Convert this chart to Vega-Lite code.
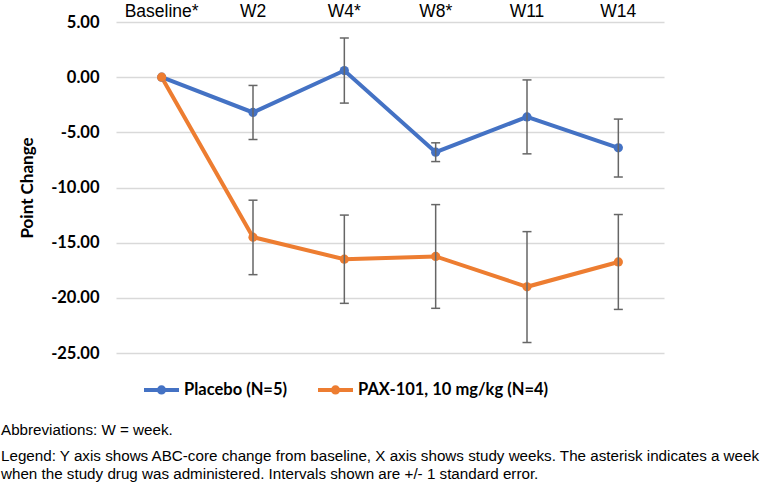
{
  "$schema": "https://vega.github.io/schema/vega-lite/v6.json",
  "width": 548,
  "height": 331,
  "autosize": {"type": "none"},
  "padding": {"left": 116, "top": 22, "right": 105, "bottom": 134},
  "background": "white",
  "config": {"view": {"stroke": null}},
  "title": {
    "text": "Abbreviations: W = week.",
    "subtitle": [
      "Legend: Y axis shows ABC-core change from baseline, X axis shows study weeks. The asterisk indicates a week",
      "when the study drug was administered. Intervals shown are +/- 1 standard error."
    ],
    "orient": "bottom",
    "anchor": "start",
    "frame": "group",
    "dx": -115,
    "offset": 22,
    "font": "Liberation Sans",
    "fontSize": 15.2,
    "fontWeight": "normal",
    "color": "#000000",
    "subtitleFont": "Liberation Sans",
    "subtitleFontSize": 15.2,
    "subtitleColor": "#000000",
    "subtitleLineHeight": 18,
    "subtitlePadding": 11
  },
  "data": {
    "values": [
      {"week": "Baseline*", "group": "Placebo (N=5)", "mean": 0, "lo": null, "hi": null},
      {"week": "W2", "group": "Placebo (N=5)", "mean": -3.2, "lo": -5.65, "hi": -0.75},
      {"week": "W4*", "group": "Placebo (N=5)", "mean": 0.6, "lo": -2.35, "hi": 3.55},
      {"week": "W8*", "group": "Placebo (N=5)", "mean": -6.8, "lo": -7.65, "hi": -5.95},
      {"week": "W11", "group": "Placebo (N=5)", "mean": -3.6, "lo": -6.95, "hi": -0.25},
      {"week": "W14", "group": "Placebo (N=5)", "mean": -6.4, "lo": -9.05, "hi": -3.8},
      {"week": "Baseline*", "group": "PAX-101, 10 mg/kg (N=4)", "mean": 0, "lo": null, "hi": null},
      {"week": "W2", "group": "PAX-101, 10 mg/kg (N=4)", "mean": -14.5, "lo": -17.9, "hi": -11.15},
      {"week": "W4*", "group": "PAX-101, 10 mg/kg (N=4)", "mean": -16.5, "lo": -20.5, "hi": -12.5},
      {"week": "W8*", "group": "PAX-101, 10 mg/kg (N=4)", "mean": -16.25, "lo": -20.95, "hi": -11.55},
      {"week": "W11", "group": "PAX-101, 10 mg/kg (N=4)", "mean": -19.0, "lo": -24.05, "hi": -14.0},
      {"week": "W14", "group": "PAX-101, 10 mg/kg (N=4)", "mean": -16.75, "lo": -21.05, "hi": -12.45}
    ]
  },
  "encoding": {
    "x": {
      "field": "week",
      "type": "nominal",
      "sort": ["Baseline*", "W2", "W4*", "W8*", "W11", "W14"],
      "scale": {"type": "band", "paddingInner": 0, "paddingOuter": 0},
      "axis": {
        "orient": "top",
        "title": null,
        "labelAngle": 0,
        "labelFont": "Liberation Sans",
        "labelFontSize": 17.5,
        "labelColor": "#000000",
        "labelPadding": 2,
        "domain": false,
        "ticks": false,
        "grid": false
      }
    }
  },
  "layer": [
    {
      "mark": {"type": "line", "strokeWidth": 4},
      "encoding": {
        "y": {
          "field": "mean",
          "type": "quantitative",
          "scale": {"domain": [-25, 5], "nice": false, "zero": false},
          "axis": {
            "title": "Point Change",
            "titleFont": "Lato",
            "titleFontSize": 17,
            "titleFontWeight": "bold",
            "titleColor": "#000000",
            "titlePadding": 14,
            "values": [-25, -20, -15, -10, -5, 0, 5],
            "labelExpr": "replace(format(datum.value, '.2f'), '\u2212', '-')",
            "labelFont": "Lato",
            "labelFontSize": 16.5,
            "labelFontWeight": "bold",
            "labelColor": "#000000",
            "labelPadding": 17,
            "domain": false,
            "ticks": false,
            "grid": true,
            "gridColor": "#d9d9d9",
            "gridWidth": 1.3
          }
        },
        "color": {
          "field": "group",
          "type": "nominal",
          "scale": {
            "domain": ["Placebo (N=5)", "PAX-101, 10 mg/kg (N=4)"],
            "range": ["#4472C4", "#ED7D31"]
          },
          "legend": {
            "title": null,
            "orient": "none",
            "direction": "horizontal",
            "legendX": 26,
            "legendY": 348,
            "symbolType": "M-1,0H1M0.15,0A0.15,0.15,0,1,1,-0.15,0A0.15,0.15,0,1,1,0.15,0Z",
            "symbolSize": 1225,
            "symbolStrokeWidth": 4,
            "labelFont": "Lato",
            "labelFontSize": 16.5,
            "labelFontWeight": "bold",
            "labelColor": "#000000",
            "labelOffset": 3,
            "labelLimit": 500,
            "columnPadding": 22,
            "encode": {
              "symbols": {
                "update": {
                  "fill": {"scale": "color", "field": "value"},
                  "stroke": {"scale": "color", "field": "value"},
                  "fillOpacity": {"value": 1},
                  "strokeOpacity": {"value": 1}
                }
              }
            }
          }
        }
      }
    },
    {
      "mark": {"type": "point", "filled": true, "size": 85, "opacity": 1},
      "encoding": {
        "y": {"field": "mean", "type": "quantitative"},
        "color": {"field": "group", "type": "nominal"}
      }
    },
    {
      "transform": [{"filter": "datum.lo != null"}],
      "mark": {"type": "rule", "color": "#666666", "strokeWidth": 1.5},
      "encoding": {
        "y": {"field": "lo", "type": "quantitative"},
        "y2": {"field": "hi"}
      }
    },
    {
      "transform": [{"filter": "datum.lo != null"}],
      "mark": {"type": "tick", "color": "#666666", "thickness": 1.5, "size": 9, "opacity": 1},
      "encoding": {
        "y": {"field": "lo", "type": "quantitative"}
      }
    },
    {
      "transform": [{"filter": "datum.hi != null"}],
      "mark": {"type": "tick", "color": "#666666", "thickness": 1.5, "size": 9, "opacity": 1},
      "encoding": {
        "y": {"field": "hi", "type": "quantitative"}
      }
    }
  ]
}
